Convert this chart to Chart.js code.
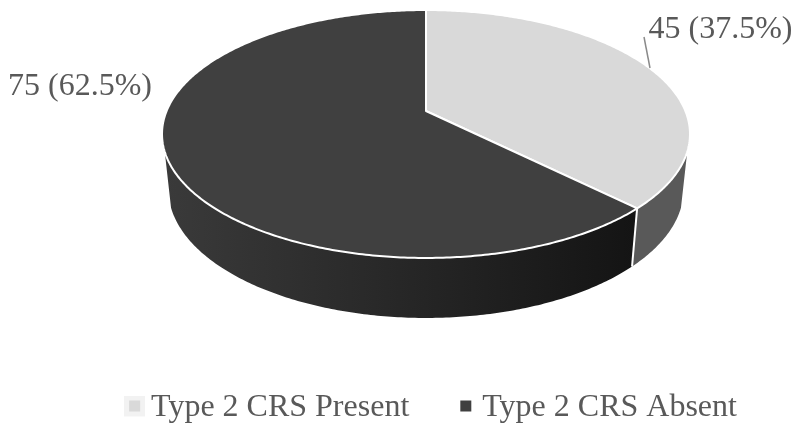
<!DOCTYPE html>
<html>
<head>
<meta charset="utf-8">
<style>html,body{margin:0;padding:0;background:#fff}#wrap{width:792px;height:425px}</style>
<script src="https://cdn.jsdelivr.net/npm/chart.js@4"></script>
</head>
<body>
<div id="wrap"><canvas id="c" width="792" height="425"></canvas></div>
<script>
// Share of patients by Type 2 CRS status
const categories = ['Type 2 CRS Present', 'Type 2 CRS Absent'];
const counts = [45, 75];
const topColors = ['#d9d9d9', '#404040'];

// Perspective disc: centre, half-axes and foreshortening of the top face
const CX = 426, CY = 111, AX = 259.4, AY = 119.7, K = 0.1855;
// Lower rim of the disc, relative to the same projection
const BASE_CY = 165.4, BASE_SX = 0.976, BASE_SY = 1.038;
const WALL_FROM = 18.7 * Math.PI / 180, WALL_TO = 161.3 * Math.PI / 180;
const LEGEND_TOP = 336, LEGEND_LEFT = 71, LEGEND_RIGHT = 800;

function topPoint(a) {
  const u = Math.cos(a), v = Math.sin(a), w = 1 - K * v;
  return [CX + AX * u / w, CY + AY * v / w];
}
function basePoint(a) {
  const u = Math.cos(a), v = Math.sin(a), w = 1 - K * v;
  return [CX + BASE_SX * AX * u / w, BASE_CY + BASE_SY * AY * v / w];
}
function traceArc(ctx, fn, from, to, move) {
  const n = Math.max(2, Math.ceil(Math.abs(to - from) * 90));
  for (let i = 0; i <= n; i++) {
    const p = fn(from + (to - from) * i / n);
    if (i === 0 && move) ctx.moveTo(p[0], p[1]); else ctx.lineTo(p[0], p[1]);
  }
}

const pie3d = {
  id: 'pie3d',
  afterLayout(chart) {
    // The wide item gap needs more room than the default legend box gives it
    chart.legend.top = LEGEND_TOP;
    chart.legend.left = LEGEND_LEFT;
    chart.legend.right = LEGEND_RIGHT;
  },
  beforeDatasetDraw(chart, args) {
    const ctx = chart.ctx;
    const arcs = chart.getDatasetMeta(args.index).data;
    const wallFills = [
      '#595959',
      (() => {
        const g = ctx.createLinearGradient(165, 0, 634, 0);
        g.addColorStop(0, '#3a3a3a');
        g.addColorStop(0.5, '#272727');
        g.addColorStop(1, '#141414');
        return g;
      })()
    ];
    // Side wall first, then the top faces over it
    arcs.forEach((arc, i) => {
      const from = Math.max(arc.startAngle, WALL_FROM);
      const to = Math.min(arc.endAngle, WALL_TO);
      if (to <= from) return;
      ctx.beginPath();
      traceArc(ctx, topPoint, from, to, true);
      traceArc(ctx, basePoint, to, from, false);
      ctx.closePath();
      ctx.fillStyle = wallFills[i];
      ctx.fill();
    });
    // Seam between the two wall segments
    const seam = arcs[0].endAngle;
    ctx.beginPath();
    ctx.moveTo(...topPoint(seam));
    ctx.lineTo(...basePoint(seam));
    ctx.strokeStyle = '#ffffff';
    ctx.lineWidth = 2;
    ctx.stroke();
    arcs.forEach(arc => {
      ctx.beginPath();
      ctx.moveTo(CX, CY);
      traceArc(ctx, topPoint, arc.startAngle, arc.endAngle, false);
      ctx.closePath();
      ctx.fillStyle = arc.options.backgroundColor;
      ctx.fill();
      ctx.strokeStyle = arc.options.borderColor;
      ctx.lineWidth = arc.options.borderWidth;
      ctx.lineJoin = 'round';
      ctx.stroke();
    });
    return false;
  },
  afterDatasetsDraw(chart) {
    const ctx = chart.ctx;
    const total = counts.reduce((a, b) => a + b, 0);
    const text = i => counts[i] + ' (' + (counts[i] / total * 100).toFixed(1) + '%)';
    // Leader line for the lighter slice
    ctx.beginPath();
    ctx.moveTo(644, 37);
    ctx.lineTo(650, 68);
    ctx.strokeStyle = '#8a8a8a';
    ctx.lineWidth = 1.5;
    ctx.stroke();
    ctx.fillStyle = '#595959';
    ctx.font = '32px "Liberation Serif"';
    ctx.textAlign = 'left';
    ctx.textBaseline = 'alphabetic';
    ctx.fillText(text(0), 648.5, 37.5);
    ctx.fillText(text(1), 8, 95);
  }
};

// Legend markers, sitting slightly above the text's middle line
function swatch(color, halo) {
  const s = document.createElement('canvas');
  s.width = 21;
  s.height = 25;
  const c = s.getContext('2d');
  if (halo) { c.fillStyle = halo; c.fillRect(0, 0, 21, 21); }
  c.fillStyle = color;
  c.fillRect(5, 5, 11, 11);
  return s;
}
const markers = [swatch(topColors[0], '#f2f2f2'), swatch(topColors[1], null)];

new Chart(document.getElementById('c'), {
  type: 'pie',
  data: {
    labels: categories,
    datasets: [{ data: counts, backgroundColor: topColors, borderColor: '#ffffff', borderWidth: 2 }]
  },
  options: {
    responsive: false,
    animation: false,
    plugins: {
      tooltip: { enabled: false },
      legend: {
        position: 'bottom',
        labels: {
          usePointStyle: true,
          pointStyleWidth: 1,
          padding: 56,
          color: '#595959',
          font: { family: '"Liberation Serif"', size: 32 },
          generateLabels: () => categories.map((t, i) => ({
            text: t, pointStyle: markers[i], fontColor: '#595959', index: i, hidden: false,
            lineWidth: 0, strokeStyle: 'transparent', fillStyle: topColors[i]
          }))
        }
      }
    }
  },
  plugins: [pie3d]
});
</script>
</body>
</html>
